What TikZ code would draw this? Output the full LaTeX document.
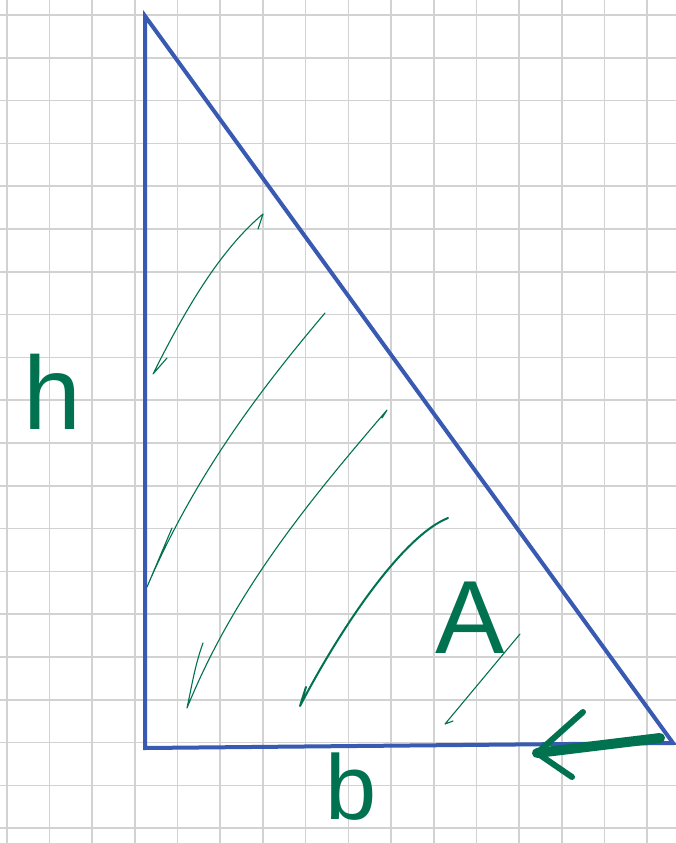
\documentclass[tikz,border=0pt]{standalone}
\usepackage{fontspec}
\setmainfont{Liberation Sans}
\usepackage{tikz}
\usetikzlibrary{calc,arrows.meta,positioning}
\definecolor{penblue}{RGB}{56,90,178}
\definecolor{pengreen}{RGB}{0,114,80}
\definecolor{gridgray}{RGB}{210,210,210}

\begin{document}
\begin{tikzpicture}[x=1pt,y=-1pt,
  gridline/.style={gridgray,line width=1.6pt},
  sideline/.style={penblue,line width=4pt,line join=miter},
  hatch/.style={pengreen,line width=1.1pt,line cap=round,line join=round},
  boldpen/.style={pengreen,line width=10pt,line cap=round,line join=round},
  handlabel/.style={text=pengreen,inner sep=0pt,font=\fontsize{104}{104}\selectfont}]
\useasboundingbox (0,0) rectangle (676,843);
\fill[white] (0,0) rectangle (676,843);
% ---- squared paper ----
\foreach \i in {0,...,15}
  \draw[gridline] (6.7+42.7*\i,0) -- (6.7+42.7*\i,843);
\foreach \j in {0,...,19}
  \draw[gridline] (0,15+42.8*\j) -- (676,15+42.8*\j);
% ---- triangle ----
\coordinate (top) at (145,16);
\coordinate (corner) at (145,748);
\coordinate (right) at (673,743);
\draw[sideline] (top) -- (corner) -- (right) -- cycle;
% ---- hatching ----
\draw[hatch] (167,358) -- (153,374) .. controls (185,310) and (220,250) .. (263,214) -- (258,229);
\draw[hatch] (325,313) .. controls (260,390) and (195,475) .. (147,587) -- (172,528);
\draw[hatch] (382,418) -- (387,410) .. controls (310,500) and (235,590) .. (187,708)
  .. controls (192,685) and (195,665) .. (203,643);
\draw[hatch,line width=2pt] (448,518) .. controls (405,535) and (345,620) .. (300,706) -- (306,687);
\draw[hatch] (520,634) -- (445,724) -- (453,721);
% ---- labels ----
\node[handlabel] (hlabel) at (52,392) {h};
\node[handlabel,font=\fontsize{92}{92}\selectfont] (blabel) at (351,787) {b};
\node[handlabel] (alabel) at (470,618) {A};
% ---- arrow along the base ----
\coordinate (arrowtail) at (660,738);
\coordinate (arrowtip) at (537,753);
\coordinate (headup) at (583,712);
\coordinate (headdown) at (572,777);
\draw[boldpen] (arrowtail) -- (arrowtip);
\draw[boldpen,line width=6pt] (headup) -- (arrowtip) -- (headdown);
\end{tikzpicture}
\end{document}
